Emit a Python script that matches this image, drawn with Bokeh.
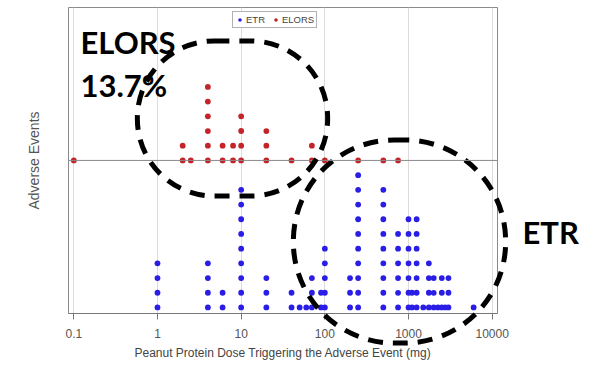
import numpy as np
from bokeh.plotting import figure
from bokeh.models import (Range1d, FixedTicker, CustomJSTickFormatter, Span, Label,
                          Legend, LegendItem)
from bokeh.embed import file_html
from bokeh.resources import INLINE

# ---- data (dose in mg, number of stacked events per dose) ----
etr_dose = [1, 4, 6, 10, 20, 40, 50, 60, 70, 90, 100, 200, 250, 500, 750,
            1000, 1100, 1250, 1500, 1750, 2000, 2250, 2500, 2750, 3000, 6000]
etr_count = [4, 4, 2, 9, 3, 2, 1, 1, 3, 2, 5, 3, 10, 9, 6,
             7, 2, 7, 1, 4, 3, 1, 3, 1, 3, 1]

elors_dose = [0.1, 2, 2.5, 4, 6, 8, 10, 20, 40, 70, 100, 250, 500, 750]
elors_count = [1, 2, 1, 6, 2, 2, 4, 3, 1, 2, 1, 1, 1, 1]
elors_base = 10

tick_values = [0.1, 1, 10, 100, 1000, 10000]


def stack(doses, counts, base):
    xs, ys = [], []
    for d, c in zip(doses, counts):
        for k in range(c):
            xs.append(d)
            ys.append(base + k)
    return xs, ys


ex, ey = stack(etr_dose, etr_count, 0)
lx, ly = stack(elors_dose, elors_count, elors_base)

BLUE = "#2a1ee6"
RED = "#c4232a"
GRAY = "#555555"

p = figure(frame_width=429, frame_height=306,
           min_border_left=68, min_border_right=102, min_border_top=7, min_border_bottom=51,
           x_axis_type="log", x_range=Range1d(0.0864, 11570), y_range=Range1d(-0.41, 20.4),
           output_backend="svg", toolbar_location=None)

p.outline_line_color = "#8a8a8a"
p.outline_line_width = 1

# x axis
xa = p.xaxis[0]
xa.ticker = FixedTicker(ticks=tick_values, minor_ticks=[])
xa.formatter = CustomJSTickFormatter(code="return tick < 1 ? tick.toFixed(1) : tick.toFixed(0);")
xa.major_tick_out = 6
xa.major_tick_in = 0
xa.major_tick_line_color = "#777777"
xa.axis_line_color = "#777777"
xa.major_label_text_font = "Liberation Sans"
xa.major_label_text_font_size = "12px"
xa.major_label_text_color = GRAY
xa.major_label_standoff = 9
xa.axis_label = "Peanut Protein Dose Triggering the Adverse Event (mg)"
xa.axis_label_text_font = "Liberation Sans"
xa.axis_label_text_font_size = "12px"
xa.axis_label_text_font_style = "normal"
xa.axis_label_text_color = "#444444"
xa.axis_label_standoff = 5

# y axis: only a title
ya = p.yaxis[0]
ya.ticker = FixedTicker(ticks=[])
ya.major_tick_line_color = None
ya.minor_tick_line_color = None
ya.axis_line_color = None
ya.major_label_text_font_size = "0px"
ya.axis_label = "Adverse Events"
ya.axis_label_text_font = "Liberation Sans"
ya.axis_label_text_font_size = "14px"
ya.axis_label_text_font_style = "normal"
ya.axis_label_text_color = "#555555"
ya.axis_label_standoff = 27

p.xgrid.ticker = FixedTicker(ticks=tick_values, minor_ticks=[])
p.xgrid.grid_line_color = "#dcdcdc"
p.ygrid.grid_line_color = None

p.add_layout(Span(location=elors_base, dimension="width", line_color="#8a8a8a", line_width=1))

r_etr = p.scatter(x=ex, y=ey, size=5.8, color=BLUE, line_width=0)
r_elors = p.scatter(x=lx, y=ly, size=5.8, color=RED, line_width=0)

legend = Legend(items=[LegendItem(label="ETR", renderers=[r_etr]),
                       LegendItem(label="ELORS", renderers=[r_elors])],
                orientation="horizontal", location=(164, 285),
                border_line_color="#666666", border_line_width=1,
                label_text_font="Liberation Sans", label_text_font_size="9.5px",
                label_text_color="#444444", glyph_width=9, glyph_height=11,
                label_height=11, padding=2, spacing=5, label_standoff=2, margin=0)
p.add_layout(legend)

# dashed highlight ellipses (canvas pixels): centre x, centre y, half-width, half-height
ellipses = [(232, 118, 95, 77, "center"), (399, 241, 106, 101, "right")]
for cx, cy, rx, ry, place in ellipses:
    p.add_layout(Label(x=cx, y=cy, x_units="canvas", y_units="canvas", text=" ",
                       text_font_size="1px", text_align="center", text_baseline="middle",
                       padding=(rx, rx, ry, ry), border_radius=ry,
                       border_line_color="black", border_line_width=5,
                       border_line_dash="15 10", background_fill_color=None), place)

for txt, x, y, place in [("ELORS", 80, 41, "center"), ("13.7%", 80, 84, "center"),
                         ("ETR", 522, 231, "right")]:
    p.add_layout(Label(x=x, y=y, x_units="canvas", y_units="canvas", text=txt,
                       text_font="Lato", text_font_style="bold", text_font_size="31px",
                       text_color="black", text_baseline="alphabetic"), place)

open("out.html", "w").write(file_html(p, INLINE))
